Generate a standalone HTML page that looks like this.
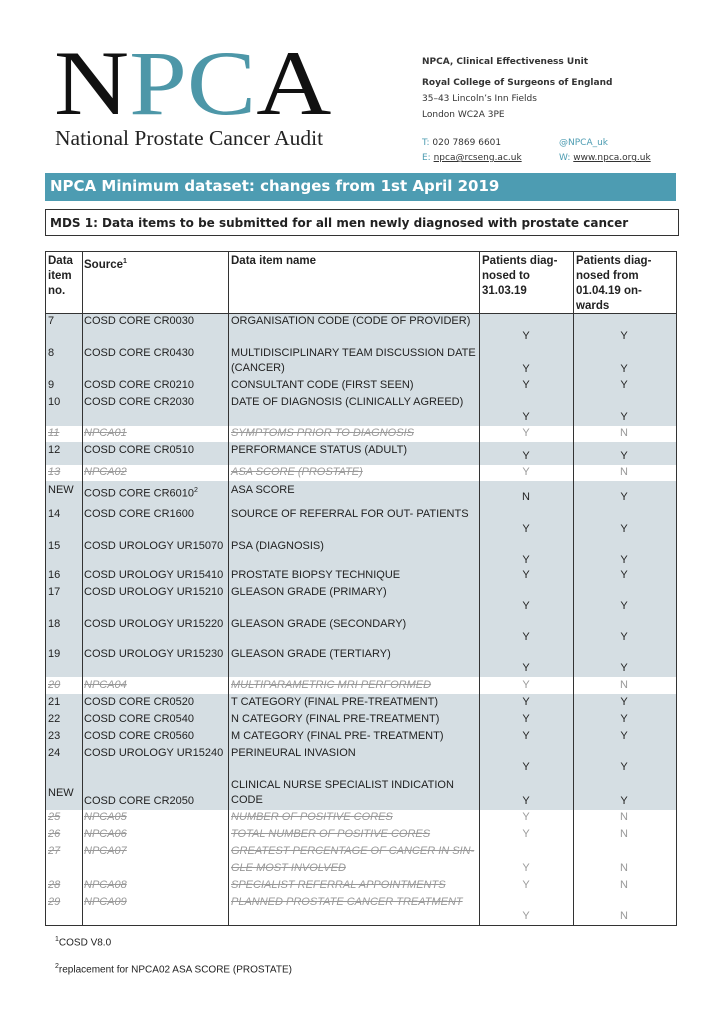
<!DOCTYPE html>
<html><head><meta charset="utf-8"><style>
*{margin:0;padding:0;box-sizing:border-box}
body{width:724px;height:1024px;background:#fff;position:relative;font-family:"DejaVu Sans","Liberation Sans",sans-serif;color:#222;overflow:hidden}
.a{position:absolute;white-space:nowrap}
.logo{position:absolute;left:54px;top:37px;font-family:"Liberation Serif",serif;font-size:92px;line-height:92px;letter-spacing:0px;transform:scaleX(1.13);transform-origin:left top;white-space:nowrap}
.sub{position:absolute;left:55px;top:126px;font-family:"Liberation Serif",serif;font-size:21.5px;color:#222}
.ad{font-size:9px;color:#333}
.bar{position:absolute;left:45px;top:173px;width:631px;height:28px;background:#4d9cb2;color:#fff;font-size:15px;font-weight:bold;padding:4px 0 0 5px}
.mds{position:absolute;left:45px;top:209px;width:634px;height:27px;border:1.5px solid #333;font-size:12px;font-weight:bold;padding:6px 0 0 4px}
.r{position:absolute;left:45px;width:631px;font-family:"Liberation Sans",sans-serif;font-size:11px}
.g{background:#d5dee3}
.r span{position:absolute;line-height:15px;white-space:nowrap}
.s span{color:#999;font-style:italic;text-decoration:line-through}
.s span.y{font-style:normal;text-decoration:none}
.y{width:20px;text-align:center}
.vl{position:absolute;top:251px;height:674px;width:1px;background:#333}
</style></head><body>
<div class="logo"><span style="color:#111">N</span><span style="color:#4d97a8">PC</span><span style="color:#111">A</span></div>
<div class="sub">National Prostate Cancer Audit</div>
<div class="a ad" style="left:422px;top:57px;font-weight:bold">NPCA, Clinical Effectiveness Unit</div>
<div class="a ad" style="left:422px;top:78px;font-weight:bold">Royal College of Surgeons of England</div>
<div class="a ad" style="left:422px;top:94px">35–43 Lincoln’s Inn Fields</div>
<div class="a ad" style="left:422px;top:110px">London WC2A 3PE</div>
<div class="a ad" style="left:422px;top:138px"><span style="color:#4d9cb2">T:</span> 020 7869 6601</div>
<div class="a ad" style="left:422px;top:153px"><span style="color:#4d9cb2">E:</span> <u>npca@rcseng.ac.uk</u></div>
<div class="a ad" style="left:559px;top:138px;color:#4d9cb2">@NPCA_uk</div>
<div class="a ad" style="left:559px;top:153px"><span style="color:#4d9cb2">W:</span> <u>www.npca.org.uk</u></div>
<div class="bar">NPCA Minimum dataset: changes from 1st April 2019</div>
<div class="mds">MDS 1: Data items to be submitted for all men newly diagnosed with prostate cancer</div>

<div class="r" style="top:251px;height:62px;font-weight:bold;font-size:11.5px">
<span style="left:3px;top:3px">Data<br>item<br>no.</span>
<span style="left:39px;top:3px">Source<sup style="font-size:7px">1</sup></span>
<span style="left:186px;top:3px">Data item name</span>
<span style="left:437px;top:3px">Patients diag-<br>nosed to<br>31.03.19</span>
<span style="left:531px;top:3px">Patients diag-<br>nosed from<br>01.04.19 on-<br>wards</span>
</div>

<div class="r g" style="top:313px;height:32px"><span style="left:3px;top:1px">7</span><span style="left:39px;top:1px">COSD CORE CR0030</span><span style="left:186px;top:1px">ORGANISATION CODE (CODE OF PROVIDER)</span><span class="y" style="left:471px;top:16px">Y</span><span class="y" style="left:569px;top:16px">Y</span></div>
<div class="r g" style="top:345px;height:33px"><span style="left:3px;top:1px">8</span><span style="left:39px;top:1px">COSD CORE CR0430</span><span style="left:186px;top:1px">MULTIDISCIPLINARY TEAM DISCUSSION DATE<br>(CANCER)</span><span class="y" style="left:471px;top:17px">Y</span><span class="y" style="left:569px;top:17px">Y</span></div>
<div class="r g" style="top:378px;height:16px"><span style="left:3px;top:0">9</span><span style="left:39px;top:0">COSD CORE CR0210</span><span style="left:186px;top:0">CONSULTANT CODE (FIRST SEEN)</span><span class="y" style="left:471px;top:0">Y</span><span class="y" style="left:569px;top:0">Y</span></div>
<div class="r g" style="top:394px;height:32px"><span style="left:3px;top:1px">10</span><span style="left:39px;top:1px">COSD CORE CR2030</span><span style="left:186px;top:1px">DATE OF DIAGNOSIS (CLINICALLY AGREED)</span><span class="y" style="left:471px;top:16px">Y</span><span class="y" style="left:569px;top:16px">Y</span></div>
<div class="r s" style="top:426px;height:16px"><span style="left:3px;top:0">11</span><span style="left:39px;top:0">NPCA01</span><span style="left:186px;top:0">SYMPTOMS PRIOR TO DIAGNOSIS</span><span class="y" style="left:471px;top:0">Y</span><span class="y" style="left:569px;top:0">N</span></div>
<div class="r g" style="top:442px;height:23px"><span style="left:3px;top:1px">12</span><span style="left:39px;top:1px">COSD CORE CR0510</span><span style="left:186px;top:1px">PERFORMANCE STATUS (ADULT)</span><span class="y" style="left:471px;top:7px">Y</span><span class="y" style="left:569px;top:7px">Y</span></div>
<div class="r s" style="top:465px;height:16px"><span style="left:3px;top:0">13</span><span style="left:39px;top:0">NPCA02</span><span style="left:186px;top:0">ASA SCORE (PROSTATE)</span><span class="y" style="left:471px;top:0">Y</span><span class="y" style="left:569px;top:0">N</span></div>
<div class="r g" style="top:481px;height:25px"><span style="left:3px;top:2px">NEW</span><span style="left:39px;top:2px">COSD CORE CR6010<sup style="font-size:7px">2</sup></span><span style="left:186px;top:2px">ASA SCORE</span><span class="y" style="left:471px;top:9px">N</span><span class="y" style="left:569px;top:9px">Y</span></div>
<div class="r g" style="top:506px;height:32px"><span style="left:3px;top:1px">14</span><span style="left:39px;top:1px">COSD CORE CR1600</span><span style="left:186px;top:1px">SOURCE OF REFERRAL FOR OUT- PATIENTS</span><span class="y" style="left:471px;top:16px">Y</span><span class="y" style="left:569px;top:16px">Y</span></div>
<div class="r g" style="top:538px;height:30px"><span style="left:3px;top:1px">15</span><span style="left:39px;top:1px">COSD UROLOGY UR15070</span><span style="left:186px;top:1px">PSA (DIAGNOSIS)</span><span class="y" style="left:471px;top:15px">Y</span><span class="y" style="left:569px;top:15px">Y</span></div>
<div class="r g" style="top:568px;height:16px"><span style="left:3px;top:0">16</span><span style="left:39px;top:0">COSD UROLOGY UR15410</span><span style="left:186px;top:0">PROSTATE BIOPSY TECHNIQUE</span><span class="y" style="left:471px;top:0">Y</span><span class="y" style="left:569px;top:0">Y</span></div>
<div class="r g" style="top:584px;height:31px"><span style="left:3px;top:1px">17</span><span style="left:39px;top:1px">COSD UROLOGY UR15210</span><span style="left:186px;top:1px">GLEASON GRADE (PRIMARY)</span><span class="y" style="left:471px;top:15px">Y</span><span class="y" style="left:569px;top:15px">Y</span></div>
<div class="r g" style="top:615px;height:31px"><span style="left:3px;top:2px">18</span><span style="left:39px;top:2px">COSD UROLOGY UR15220</span><span style="left:186px;top:2px">GLEASON GRADE (SECONDARY)</span><span class="y" style="left:471px;top:15px">Y</span><span class="y" style="left:569px;top:15px">Y</span></div>
<div class="r g" style="top:646px;height:31px"><span style="left:3px;top:1px">19</span><span style="left:39px;top:1px">COSD UROLOGY UR15230</span><span style="left:186px;top:1px">GLEASON GRADE (TERTIARY)</span><span class="y" style="left:471px;top:15px">Y</span><span class="y" style="left:569px;top:15px">Y</span></div>
<div class="r s" style="top:677px;height:17px"><span style="left:3px;top:1px">20</span><span style="left:39px;top:1px">NPCA04</span><span style="left:186px;top:1px">MULTIPARAMETRIC MRI PERFORMED</span><span class="y" style="left:471px;top:1px">Y</span><span class="y" style="left:569px;top:1px">N</span></div>
<div class="r g" style="top:694px;height:17px"><span style="left:3px;top:1px">21</span><span style="left:39px;top:1px">COSD CORE CR0520</span><span style="left:186px;top:1px">T CATEGORY (FINAL PRE-TREATMENT)</span><span class="y" style="left:471px;top:1px">Y</span><span class="y" style="left:569px;top:1px">Y</span></div>
<div class="r g" style="top:711px;height:17px"><span style="left:3px;top:1px">22</span><span style="left:39px;top:1px">COSD CORE CR0540</span><span style="left:186px;top:1px">N CATEGORY (FINAL PRE-TREATMENT)</span><span class="y" style="left:471px;top:1px">Y</span><span class="y" style="left:569px;top:1px">Y</span></div>
<div class="r g" style="top:728px;height:17px"><span style="left:3px;top:1px">23</span><span style="left:39px;top:1px">COSD CORE CR0560</span><span style="left:186px;top:1px">M CATEGORY (FINAL PRE- TREATMENT)</span><span class="y" style="left:471px;top:1px">Y</span><span class="y" style="left:569px;top:1px">Y</span></div>
<div class="r g" style="top:745px;height:32px"><span style="left:3px;top:1px">24</span><span style="left:39px;top:1px">COSD UROLOGY UR15240</span><span style="left:186px;top:1px">PERINEURAL INVASION</span><span class="y" style="left:471px;top:15px">Y</span><span class="y" style="left:569px;top:15px">Y</span></div>
<div class="r g" style="top:777px;height:33px"><span style="left:3px;top:9px">NEW</span><span style="left:39px;top:17px">COSD CORE CR2050</span><span style="left:186px;top:1px">CLINICAL NURSE SPECIALIST INDICATION<br>CODE</span><span class="y" style="left:471px;top:17px">Y</span><span class="y" style="left:569px;top:17px">Y</span></div>
<div class="r s" style="top:810px;height:16px"><span style="left:3px;top:0">25</span><span style="left:39px;top:0">NPCA05</span><span style="left:186px;top:0">NUMBER OF POSITIVE CORES</span><span class="y" style="left:471px;top:0">Y</span><span class="y" style="left:569px;top:0">N</span></div>
<div class="r s" style="top:826px;height:17px"><span style="left:3px;top:1px">26</span><span style="left:39px;top:1px">NPCA06</span><span style="left:186px;top:1px">TOTAL NUMBER OF POSITIVE CORES</span><span class="y" style="left:471px;top:1px">Y</span><span class="y" style="left:569px;top:1px">N</span></div>
<div class="r s" style="top:843px;height:34px"><span style="left:3px;top:1px">27</span><span style="left:39px;top:1px">NPCA07</span><span style="left:186px;top:1px">GREATEST PERCENTAGE OF CANCER IN SIN-</span><span style="left:186px;top:18px">GLE MOST INVOLVED</span><span class="y" style="left:471px;top:18px">Y</span><span class="y" style="left:569px;top:18px">N</span></div>
<div class="r s" style="top:877px;height:17px"><span style="left:3px;top:1px">28</span><span style="left:39px;top:1px">NPCA08</span><span style="left:186px;top:1px">SPECIALIST REFERRAL APPOINTMENTS</span><span class="y" style="left:471px;top:1px">Y</span><span class="y" style="left:569px;top:1px">N</span></div>
<div class="r s" style="top:894px;height:31px"><span style="left:3px;top:1px">29</span><span style="left:39px;top:1px">NPCA09</span><span style="left:186px;top:1px">PLANNED PROSTATE CANCER TREATMENT</span><span class="y" style="left:471px;top:15px">Y</span><span class="y" style="left:569px;top:15px">N</span></div>

<div style="position:absolute;left:45px;top:251px;width:632px;height:675px;border:1px solid #333"></div>
<div style="position:absolute;left:45px;top:313px;width:632px;height:1px;background:#333"></div>
<div class="vl" style="left:82px"></div>
<div class="vl" style="left:228px"></div>
<div class="vl" style="left:479px"></div>
<div class="vl" style="left:573px"></div>

<div class="a" style="left:55px;top:936px;font-size:10px;font-family:'Liberation Sans',sans-serif"><sup style="font-size:7px">1</sup>COSD V8.0</div>
<div class="a" style="left:55px;top:963px;font-size:10px;font-family:'Liberation Sans',sans-serif"><sup style="font-size:7px">2</sup>replacement for NPCA02 ASA SCORE (PROSTATE)</div>
</body></html>
